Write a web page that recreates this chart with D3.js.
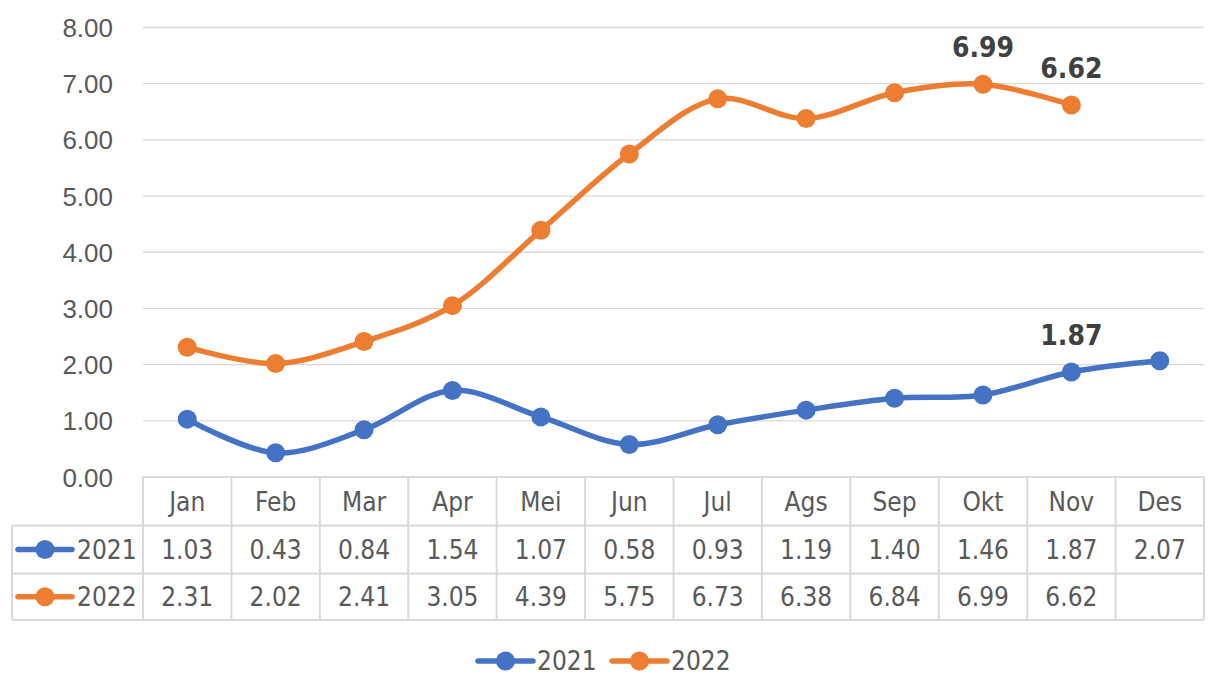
<!DOCTYPE html>
<html><head><meta charset="utf-8">
<script src="https://cdn.jsdelivr.net/npm/d3@7"></script>
<style>
html,body{margin:0;padding:0;background:#fff;}
svg{display:block;font-family:'DejaVu Sans Condensed','Liberation Sans Narrow','DejaVu Sans',sans-serif;}
</style></head><body>
<svg id="c" width="1216" height="686"></svg>
<script>
const months = ["Jan","Feb","Mar","Apr","Mei","Jun","Jul","Ags","Sep","Okt","Nov","Des"];
const values2021 = [1.03,0.43,0.84,1.54,1.07,0.58,0.93,1.19,1.40,1.46,1.87,2.07];
const values2022 = [2.31,2.02,2.41,3.05,4.39,5.75,6.73,6.38,6.84,6.99,6.62,null];
const yTicks = [0,1,2,3,4,5,6,7,8];
const seriesNames = ["2021","2022"];
const seriesColors = ["#4472C4","#ED7D31"];
const labelled = [[10],[9,10]];

(function(){
const series = seriesNames.map((n,i)=>({name:n,color:seriesColors[i],values:[values2021,values2022][i],labels:labelled[i]}));

const svg = d3.select("#c");
const pL = 143, pR = 1204, pT = 27.5, pB = 477;
const x = d3.scaleBand().domain(months).range([pL,pR]).padding(0);
const y = d3.scaleLinear().domain([0,8]).range([pB,pT]);
const textCol = "#595959", gridCol = "#D9D9D9";
const fs = 26;

svg.append("g").selectAll("line").data(yTicks.filter(d=>d>0)).join("line")
  .attr("x1",pL).attr("x2",pR).attr("y1",d=>y(d)).attr("y2",d=>y(d))
  .attr("stroke",gridCol).attr("stroke-width",1.3);

const yAxis = d3.axisLeft(y).tickValues(yTicks).tickFormat(d3.format(".2f")).tickSize(0).tickPadding(30);
const ya = svg.append("g").attr("transform",`translate(${pL},0)`).call(yAxis);
ya.select(".domain").remove();
ya.selectAll("text").attr("font-size",fs).attr("fill",textCol).attr("font-family",null).attr("dy","0.35em");

const rowH = [477,525.5,573.5,620];
const tbl = svg.append("g");
const bc = "#D9D9D9";
tbl.append("line").attr("x1",pL).attr("x2",pR).attr("y1",rowH[0]).attr("y2",rowH[0]).attr("stroke",bc).attr("stroke-width",2);
tbl.selectAll("line.h").data([1,2,3]).join("line").attr("class","h")
  .attr("x1",12).attr("x2",pR).attr("y1",d=>rowH[d]).attr("y2",d=>rowH[d]).attr("stroke",bc).attr("stroke-width",2);
tbl.selectAll("line.v").data(d3.range(months.length+1)).join("line").attr("class","v")
  .attr("x1",d=>pL + d*x.bandwidth()).attr("x2",d=>pL + d*x.bandwidth())
  .attr("y1",rowH[0]).attr("y2",rowH[3]).attr("stroke",bc).attr("stroke-width",2);
tbl.append("line").attr("x1",12).attr("x2",12).attr("y1",rowH[1]).attr("y2",rowH[3]).attr("stroke",bc).attr("stroke-width",2);

tbl.selectAll("text.m").data(months).join("text").attr("class","m")
  .attr("x",d=>x(d)+x.bandwidth()/2).attr("y",(rowH[0]+rowH[1])/2).attr("dy","0.36em")
  .attr("text-anchor","middle").attr("font-size",fs).attr("fill",textCol).text(d=>d);

series.forEach((s,si)=>{
  const cy = (rowH[si+1]+rowH[si+2])/2;
  const g = tbl.append("g");
  g.selectAll("text").data(s.values.map((v,i)=>({v,m:months[i]})).filter(d=>d.v!=null)).join("text")
    .attr("x",d=>x(d.m)+x.bandwidth()/2).attr("y",cy).attr("dy","0.36em")
    .attr("text-anchor","middle").attr("font-size",fs).attr("fill",textCol).text(d=>d.v.toFixed(2));
  g.append("line").attr("x1",18).attr("x2",72).attr("y1",cy).attr("y2",cy).attr("stroke",s.color).attr("stroke-width",5.5).attr("stroke-linecap","round");
  g.append("circle").attr("cx",45).attr("cy",cy).attr("r",9.5).attr("fill",s.color);
  g.append("text").attr("x",77).attr("y",cy).attr("dy","0.36em").attr("font-size",fs).attr("fill",textCol).text(s.name);
});

const line = d3.line().defined(d=>d.v!=null).x(d=>x(d.m)+x.bandwidth()/2).y(d=>y(d.v)).curve(d3.curveCatmullRom.alpha(0.5));
series.forEach(s=>{
  const pts = s.values.map((v,i)=>({v,m:months[i],i}));
  svg.append("path").datum(pts).attr("d",line).attr("fill","none").attr("stroke",s.color).attr("stroke-width",5.5).attr("stroke-linecap","round");
  svg.append("g").selectAll("circle").data(pts.filter(d=>d.v!=null)).join("circle")
    .attr("cx",d=>x(d.m)+x.bandwidth()/2).attr("cy",d=>y(d.v)).attr("r",9.5).attr("fill",s.color);
  svg.append("g").selectAll("text").data(pts.filter(d=>s.labels.includes(d.i))).join("text")
    .attr("x",d=>x(d.m)+x.bandwidth()/2).attr("y",d=>y(d.v)-27)
    .attr("text-anchor","middle").attr("font-size",28).attr("font-weight","bold").attr("fill","#404040").text(d=>d.v.toFixed(2));
});

const lg = svg.append("g");
const lx = [476, 610];
series.forEach((s,i)=>{
  const g = lg.append("g").attr("transform",`translate(${lx[i]},661)`);
  g.append("line").attr("x1",2).attr("x2",57).attr("y1",0).attr("y2",0).attr("stroke",s.color).attr("stroke-width",5.5).attr("stroke-linecap","round");
  g.append("circle").attr("cx",29.5).attr("cy",0).attr("r",9.5).attr("fill",s.color);
  g.append("text").attr("x",61).attr("y",0).attr("dy","0.36em").attr("font-size",fs).attr("fill",textCol).text(s.name);
});
})();
</script>
</body></html>
